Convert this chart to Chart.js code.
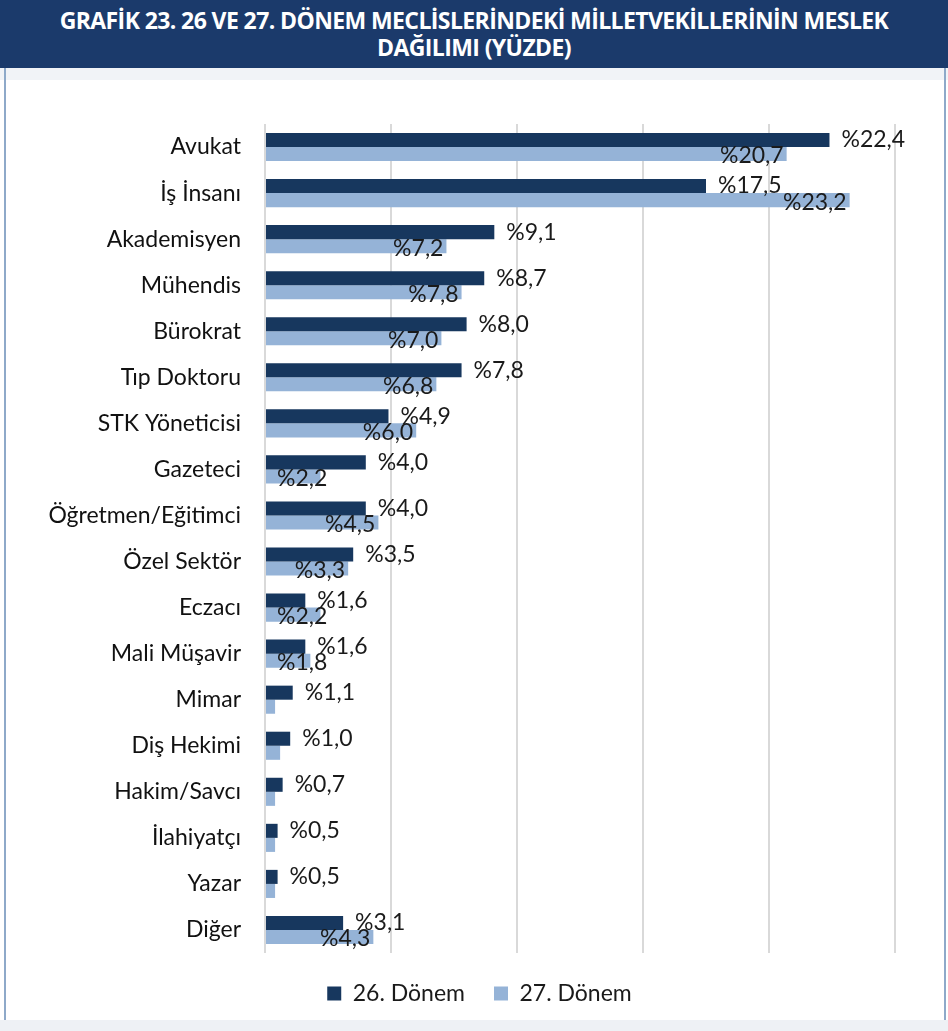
<!DOCTYPE html>
<html lang="tr">
<head>
<meta charset="utf-8">
<script src="https://cdn.jsdelivr.net/npm/chart.js@4.4.1/dist/chart.umd.min.js"></script>
<style>
  html, body { margin: 0; padding: 0; background: #fff; }
  body { width: 948px; height: 1031px; position: relative; overflow: hidden; font-family: Lato, "Open Sans", sans-serif; }
  #baslik {
    position: absolute; left: 0; top: 0; width: 948px; height: 68px;
    background: #1b3a6b; color: #fff; text-align: center;
    font-family: "Open Sans", sans-serif; font-weight: 700; font-size: 23px;
    line-height: 27px; padding-top: 7px; box-sizing: border-box; letter-spacing: -0.6px;
  }
  #seritUst { position: absolute; left: 0; top: 68px; width: 948px; height: 12px; background: #f1f3f7; }
  #seritAlt { position: absolute; left: 0; top: 1020px; width: 948px; height: 11px; background: #eef1f5; }
  #cerceveSol { position: absolute; left: 4px; top: 68px; width: 2px; height: 952px; background: #8ea9c9; }
  #cerceveSag { position: absolute; left: 944px; top: 68px; width: 2px; height: 952px; background: #8ea9c9; }
  #kutu { position: absolute; left: 0; top: 80px; width: 948px; height: 935px; }
</style>
</head>
<body>
<div id="baslik">GRAFİK 23. 26 VE 27. DÖNEM MECLİSLERİNDEKİ MİLLETVEKİLLERİNİN MESLEK<br>DAĞILIMI (YÜZDE)</div>
<div id="seritUst"></div>
<div id="cerceveSol"></div>
<div id="cerceveSag"></div>
<div id="kutu"><canvas id="meslekChart"></canvas></div>
<div id="seritAlt"></div>

<script>
// meslek grupları (kategori)
const meslekler = [
  'Avukat', 'İş İnsanı', 'Akademisyen', 'Mühendis', 'Bürokrat', 'Tıp Doktoru',
  'STK Yöneticisi', 'Gazeteci', 'Öğretmen/Eğitimci', 'Özel Sektör', 'Eczacı',
  'Mali Müşavir', 'Mimar', 'Diş Hekimi', 'Hakim/Savcı', 'İlahiyatçı', 'Yazar', 'Diğer'
];

// yüzde değerleri
const donem26 = [22.4, 17.5, 9.1, 8.7, 8.0, 7.8, 4.9, 4.0, 4.0, 3.5, 1.6, 1.6, 1.1, 1.0, 0.7, 0.5, 0.5, 3.1];
const donem27 = [20.7, 23.2, 7.2, 7.8, 7.0, 6.8, 6.0, 2.2, 4.5, 3.3, 2.2, 1.8, 0.4, 0.6, 0.4, 0.4, 0.4, 4.3];

const seriAdlari = ['26. Dönem', '27. Dönem'];
const xTikler = [0, 5, 10, 15, 20, 25];

const KOYU = '#17375e';
const ACIK = '#95b3d7';
const FONT = 'Lato, "Open Sans", sans-serif';
const PUNTO = 23;

// yüzde etiketi: %22,4
function yuzde(v) {
  return '%' + v.toFixed(1).replace('.', ',');
}

// bar uçlarına değer yazan küçük eklenti
const degerEtiketi = {
  id: 'degerEtiketi',
  afterDatasetsDraw(chart) {
    const ctx = chart.ctx;
    const solKenar = chart.chartArea.left;
    ctx.save();
    ctx.font = PUNTO + 'px ' + FONT;
    ctx.fillStyle = '#1a1a1a';
    ctx.textBaseline = 'middle';

    // 26. dönem -> barın sağına
    chart.getDatasetMeta(0).data.forEach((bar, i) => {
      ctx.textAlign = 'left';
      ctx.fillText(yuzde(donem26[i]), bar.x + 12, bar.y);
    });

    // 27. dönem -> bar ucunun içine, küçük değerlerde yazılmıyor
    chart.getDatasetMeta(1).data.forEach((bar, i) => {
      const v = donem27[i];
      if (v < 1) return;
      const metin = yuzde(v);
      const w = ctx.measureText(metin).width;
      const x = Math.max(bar.x - 3, solKenar + 12 + w);
      ctx.textAlign = 'right';
      ctx.fillText(metin, x, bar.y + 2);
    });
    ctx.restore();
  }
};

// lejant sağ boşluk yüzünden sola kayıyor, biraz sağa it
const lejantKaydir = {
  id: 'lejantKaydir',
  afterLayout(chart) {
    if (!chart.legend) return;
    chart.legend.left += 32;
    chart.legend.right += 32;
  }
};

const ctx = document.getElementById('meslekChart').getContext('2d');
new Chart(ctx, {
  type: 'bar',
  data: {
    labels: meslekler,
    datasets: [
      { label: seriAdlari[0], data: donem26, backgroundColor: KOYU, categoryPercentage: 0.61, barPercentage: 1.0 },
      { label: seriAdlari[1], data: donem27, backgroundColor: ACIK, categoryPercentage: 0.61, barPercentage: 1.0 }
    ]
  },
  options: {
    indexAxis: 'y',
    responsive: true,
    maintainAspectRatio: false,
    animation: false,
    layout: { padding: { top: 44, right: 53, bottom: 0, left: 0 } },
    plugins: {
      legend: {
        position: 'bottom',
        labels: {
          boxWidth: 14, boxHeight: 14, padding: 29,
          color: '#1a1a1a',
          font: { family: FONT, size: PUNTO }
        }
      },
      tooltip: { enabled: false }
    },
    scales: {
      x: {
        min: 0, max: 25,
        afterBuildTicks: (s) => { s.ticks = xTikler.map(v => ({ value: v })); },
        ticks: { display: false },
        grid: { color: '#d9d9d9', lineWidth: 2, drawTicks: false },
        border: { display: false }
      },
      y: {
        afterFit: (s) => { s.width = 265; },
        ticks: { color: '#111', padding: 16, font: { family: FONT, size: PUNTO } },
        grid: { display: false },
        border: { display: false }
      }
    }
  },
  plugins: [degerEtiketi, lejantKaydir]
});
</script>
</body>
</html>
